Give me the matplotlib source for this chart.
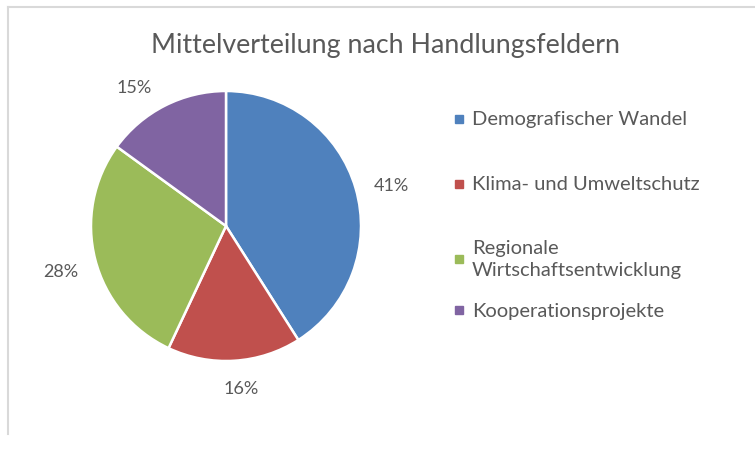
import matplotlib.pyplot as plt
from matplotlib.lines import Line2D
from matplotlib.patches import Rectangle

# Mittelverteilung (Anteile in Prozent)
felder = ['Demografischer Wandel', 'Klima- und Umweltschutz',
          'Regionale\nWirtschaftsentwicklung', 'Kooperationsprojekte']
anteile = [41, 16, 28, 15]
farben = ['#4F81BD', '#C0504D', '#9BBB59', '#8064A2']
titel = 'Mittelverteilung nach Handlungsfeldern'

plt.rcParams['font.family'] = ['Lato', 'DejaVu Sans']
textfarbe = '#595959'

W, H = 755, 452
fig = plt.figure(figsize=(W / 100, H / 100), dpi=100)

# Rahmen des Diagrammbereichs (oben und links)
fig.add_artist(Line2D([8 / W, 1], [1 - 8 / H, 1 - 8 / H], color='#d9d9d9', lw=1.5))
fig.add_artist(Line2D([8 / W, 8 / W], [1 - 8 / H, 1 - 435 / H], color='#d9d9d9', lw=1.5))

# Kreis: Mittelpunkt (226, 227) px, Radius 135 px
cx, cy, r = 226, 227, 135
ax = fig.add_axes([(cx - r) / W, (H - cy - r) / H, 2 * r / W, 2 * r / H])
wedges, _, autotexts = ax.pie(
    anteile, colors=farben, startangle=90, counterclock=False,
    autopct='%d%%', pctdistance=1.24, radius=1,
    wedgeprops=dict(edgecolor='white', linewidth=1.8),
    textprops=dict(color=textfarbe, fontsize=13))
ax.set_xlim(-1, 1)
ax.set_ylim(-1, 1)
ax.set_aspect('equal')

# Beschriftungen etwas versetzt wie bei "optimaler Anpassung"
label_pos = [(1.222, 0.304), (0.111, -1.2), (-1.222, -0.333), (-0.681, 1.03)]
for t, pos in zip(autotexts, label_pos):
    t.set_position(pos)

fig.text(385 / W, 1 - 45 / H, titel, ha='center', va='center',
         fontsize=19.3, color=textfarbe)

# Legende rechts
zeilen_y = [120, 185, 259.5, 311]
for name, farbe, y in zip(felder, farben, zeilen_y):
    fig.add_artist(Rectangle((455 / W, 1 - (y + 4) / H), 8 / W, 8 / H,
                             transform=fig.transFigure, color=farbe))
    fig.text(472 / W, 1 - y / H, name, ha='left', va='center',
             fontsize=14.5, color=textfarbe, linespacing=1.4)

fig.savefig('out.png', dpi=100, facecolor='white')
